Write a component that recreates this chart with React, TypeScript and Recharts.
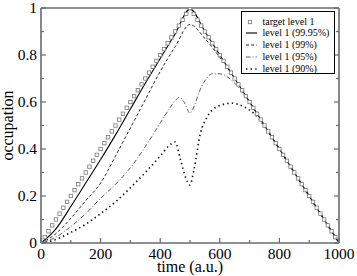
import { ComposedChart, Legend, Line, Scatter, XAxis, YAxis } from 'recharts';

const targetTime = [
  0, 12.5, 25, 37.5, 50, 62.5, 75, 87.5, 100, 112.5, 125, 137.5, 150, 162.5, 175, 187.5, 200, 212.5, 225, 237.5,
  250, 262.5, 275, 287.5, 300, 312.5, 325, 337.5, 350, 362.5, 375, 387.5, 400, 412.5, 425, 437.5, 450, 462.5, 475,
  487.5, 500, 512.5, 525, 537.5, 550, 562.5, 575, 587.5, 600, 612.5, 625, 637.5, 650, 662.5, 675, 687.5, 700, 712.5,
  725, 737.5, 750, 762.5, 775, 787.5, 800, 812.5, 825, 837.5, 850, 862.5, 875, 887.5, 900, 912.5, 925, 937.5, 950,
  962.5, 975, 987.5, 1000,
];
const targetLevel = [
  0, 0.025, 0.05, 0.075, 0.1, 0.125, 0.15, 0.175, 0.2, 0.225, 0.25, 0.275, 0.3, 0.325, 0.35, 0.375, 0.4, 0.425, 0.45,
  0.475, 0.5, 0.525, 0.55, 0.575, 0.6, 0.625, 0.65, 0.675, 0.7, 0.725, 0.75, 0.775, 0.8, 0.825, 0.85, 0.875, 0.9, 0.925,
  0.95, 0.975, 1, 0.975, 0.95, 0.925, 0.9, 0.875, 0.85, 0.825, 0.8, 0.775, 0.75, 0.725, 0.7, 0.675, 0.65, 0.625, 0.6,
  0.575, 0.55, 0.525, 0.5, 0.475, 0.45, 0.425, 0.4, 0.375, 0.35, 0.325, 0.3, 0.275, 0.25, 0.225, 0.2, 0.175, 0.15,
  0.125, 0.1, 0.075, 0.05, 0.025, 0,
];

const fit9995Time = [0, 50, 100, 150, 200, 250, 300, 350, 400, 450, 500, 550, 600, 650, 700, 750, 800, 850, 900, 950, 1000];
const fit9995Level = [0, 0.06, 0.155, 0.255, 0.355, 0.46, 0.57, 0.68, 0.785, 0.89, 0.995, 0.9, 0.8, 0.7, 0.6, 0.5, 0.4, 0.3, 0.2, 0.1, 0];

const fit99Time = [0, 50, 100, 150, 200, 250, 300, 350, 400, 450, 500, 550, 600, 650, 700, 750, 800, 850, 900, 950, 1000];
const fit99Level = [0, 0.04, 0.105, 0.18, 0.255, 0.37, 0.49, 0.61, 0.73, 0.835, 0.93, 0.87, 0.79, 0.7, 0.6, 0.5, 0.4, 0.3, 0.2, 0.1, 0];

const fit95Time = [0, 50, 100, 150, 200, 250, 300, 350, 400, 430, 450, 465, 480, 500, 515, 530, 550, 575, 600, 650, 700, 750, 800, 850, 900, 950, 1000];
const fit95Level = [0, 0.025, 0.07, 0.125, 0.19, 0.25, 0.32, 0.41, 0.51, 0.57, 0.605, 0.62, 0.6, 0.553, 0.585, 0.64, 0.69, 0.72, 0.72, 0.68, 0.6, 0.5, 0.4, 0.3, 0.2, 0.1, 0];

const fit90Time = [0, 50, 100, 150, 200, 250, 300, 350, 400, 430, 450, 468, 485, 500, 513, 535, 558, 591, 640, 680, 720, 760, 800, 850, 900, 950, 1000];
const fit90Level = [0, 0.015, 0.045, 0.08, 0.125, 0.175, 0.235, 0.3, 0.37, 0.415, 0.43, 0.355, 0.28, 0.247, 0.31, 0.467, 0.537, 0.58, 0.595, 0.58, 0.545, 0.48, 0.4, 0.3, 0.2, 0.1, 0];

const xTicks = [0, 100, 200, 300, 400, 500, 600, 700, 800, 900, 1000];
const yTicks = [0, 0.1, 0.2, 0.3, 0.4, 0.5, 0.6, 0.7, 0.8, 0.9, 1];

const legendLabels = ['target level 1', 'level 1 (99.95%)', 'level 1 (99%)', 'level 1 (95%)', 'level 1 (90%)'];

const toPoints = (t: number[], v: number[]) => t.map((time, i) => ({ t: time, v: v[i] }));

const FONT = 'Liberation Serif, DejaVu Serif, serif';
const FRAME = '#6a6a6a';
const MAJOR = 5;
const MINOR = 3;

const isMajorX = (v: number) => v % 200 === 0;
const isMajorY = (v: number) => Math.round(v * 10) % 2 === 0;

function BottomTick(props: any) {
  const { x, y, payload } = props;
  const v = payload.value;
  const base = y - 4;
  return (
    <g>
      <line x1={x} x2={x} y1={base} y2={base - (isMajorX(v) ? MAJOR : MINOR)} stroke={FRAME} strokeWidth={1.2} />
      {isMajorX(v) && (
        <text x={x} y={base} dy={15.5} textAnchor="middle" fontSize={15.5} fontFamily={FONT} fill="#000">
          {v}
        </text>
      )}
    </g>
  );
}

function TopTick(props: any) {
  const { x, y, payload } = props;
  const v = payload.value;
  return <line x1={x} x2={x} y1={y} y2={y + (isMajorX(v) ? MAJOR : MINOR)} stroke={FRAME} strokeWidth={1.2} />;
}

function LeftTick(props: any) {
  const { x, y, payload } = props;
  const v = payload.value;
  const base = x + 4;
  return (
    <g>
      <line x1={base} x2={base + (isMajorY(v) ? MAJOR : MINOR)} y1={y} y2={y} stroke={FRAME} strokeWidth={1.2} />
      {isMajorY(v) && (
        <text x={x} y={y} dy={5.3} textAnchor="end" fontSize={15.5} fontFamily={FONT} fill="#000">
          {Math.round(v * 10) / 10}
        </text>
      )}
    </g>
  );
}

function RightTick(props: any) {
  const { x, y, payload } = props;
  const v = payload.value;
  return <line x1={x} x2={x - (isMajorY(v) ? MAJOR : MINOR)} y1={y} y2={y} stroke={FRAME} strokeWidth={1.2} />;
}

const SquareMark = (props: any) => {
  const { cx, cy } = props;
  return <rect x={cx - 1.7} y={cy - 1.7} width={3.4} height={3.4} fill="#fff" stroke="#777" strokeWidth={0.8} />;
};

const lineStyles = [
  { dash: undefined as string | undefined, width: 1.1, color: '#000' },
  { dash: '3 2.2', width: 0.9, color: '#111' },
  { dash: '4.5 2 1 2', width: 0.8, color: '#333' },
  { dash: '1.4 3.2', width: 1.6, color: '#111' },
];

function LegendBox() {
  return (
    <div
      style={{
        width: 94,
        height: 63,
        border: '1px solid #000',
        background: '#fff',
        boxSizing: 'border-box',
        position: 'relative',
        fontFamily: FONT,
        fontSize: 10,
        color: '#000',
      }}
    >
      {legendLabels.map((label, i) => {
        const style = lineStyles[i - 1];
        return (
          <div key={label} style={{ position: 'absolute', left: 0, top: 3.5 + i * 11.8, height: 12, width: 92, lineHeight: '12px' }}>
            <svg width={20} height={12} style={{ position: 'absolute', left: 0, top: 0 }}>
              {i === 0 ? (
                <rect x={6.3} y={4.3} width={3.4} height={3.4} fill="#fff" stroke="#777" strokeWidth={0.8} />
              ) : (
                <line x1={4} x2={15} y1={6} y2={6} stroke={style.color} strokeWidth={style.width} strokeDasharray={style.dash} />
              )}
            </svg>
            <span style={{ position: 'absolute', left: 20.5, top: 0, whiteSpace: 'nowrap' }}>{label}</span>
          </div>
        );
      })}
    </div>
  );
}

const series = [
  { key: '99.95', data: toPoints(fit9995Time, fit9995Level) },
  { key: '99', data: toPoints(fit99Time, fit99Level) },
  { key: '95', data: toPoints(fit95Time, fit95Level) },
  { key: '90', data: toPoints(fit90Time, fit90Level) },
];

export default function App() {
  return (
    <div style={{ position: 'absolute', left: 0, top: 0, width: 357, height: 276, background: '#fff' }}>
      <ComposedChart width={357} height={276} margin={{ top: 0, right: 0, bottom: 0, left: 0 }}>
        <XAxis
          dataKey="t"
          type="number"
          domain={[0, 1000]}
          allowDataOverflow
          ticks={xTicks}
          interval={0}
          height={33}
          tickSize={0}
          tickMargin={4}
          tickLine={false}
          tick={BottomTick}
          axisLine={{ stroke: FRAME, strokeWidth: 1.6 }}
          label={{ value: 'time (a.u.)', position: 'insideBottom', offset: 4, fontSize: 16, fontFamily: FONT, fill: '#000' }}
        />
        <XAxis
          xAxisId="top"
          orientation="top"
          type="number"
          domain={[0, 1000]}
          allowDataOverflow
          ticks={xTicks}
          interval={0}
          height={8}
          tickSize={0}
          tickMargin={0}
          tickLine={false}
          tick={TopTick}
          axisLine={{ stroke: FRAME, strokeWidth: 1.6 }}
        />
        <YAxis
          dataKey="v"
          type="number"
          domain={[0, 1]}
          allowDataOverflow
          ticks={yTicks}
          interval={0}
          width={41}
          tickSize={0}
          tickMargin={4}
          tickLine={false}
          tick={LeftTick}
          axisLine={{ stroke: FRAME, strokeWidth: 1.6 }}
          label={{ value: 'occupation', angle: -90, position: 'insideLeft', offset: 7.5, fontSize: 16, fontFamily: FONT, fill: '#000', style: { textAnchor: 'middle' } }}
        />
        <YAxis
          yAxisId="right"
          orientation="right"
          type="number"
          domain={[0, 1]}
          allowDataOverflow
          ticks={yTicks}
          interval={0}
          width={18}
          tickSize={0}
          tickMargin={0}
          tickLine={false}
          tick={RightTick}
          axisLine={{ stroke: FRAME, strokeWidth: 1.6 }}
        />
        <Scatter data={toPoints(targetTime, targetLevel)} dataKey="v" shape={SquareMark} isAnimationActive={false} />
        {series.map((s, i) => (
          <Line
            key={s.key}
            data={s.data}
            dataKey="v"
            type="monotone"
            stroke={lineStyles[i].color}
            strokeWidth={lineStyles[i].width}
            strokeDasharray={lineStyles[i].dash}
            dot={false}
            activeDot={false}
            isAnimationActive={false}
          />
        ))}
        <Legend
          layout="vertical"
          align="center"
          verticalAlign="middle"
          content={() => <LegendBox />}
          wrapperStyle={{ position: 'absolute', left: 241, top: 11, width: 94, height: 63 }}
        />
      </ComposedChart>
    </div>
  );
}
